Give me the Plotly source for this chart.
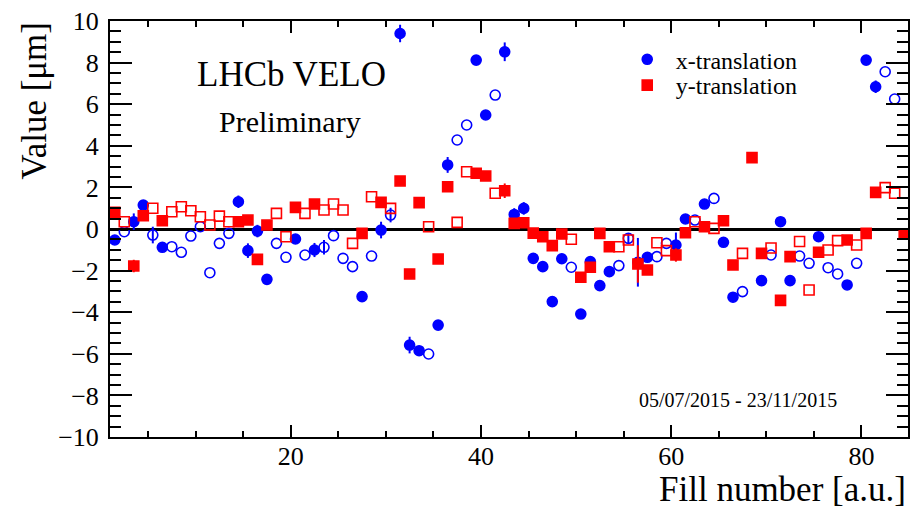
import plotly.graph_objects as go

# ---------------- data ----------------
fill = [1.5, 2.5, 3.5, 4.5, 5.5, 6.5, 7.5, 8.5, 9.5, 10.5,
        11.5, 12.5, 13.5, 14.5, 15.5, 16.5, 17.5, 18.5, 19.5, 20.5,
        21.5, 22.5, 23.5, 24.5, 25.5, 26.5, 27.5, 28.5, 29.5, 30.5,
        31.5, 32.5, 33.5, 34.5, 35.5, 36.5, 37.5, 38.5, 39.5, 40.5,
        41.5, 42.5, 43.5, 44.5, 45.5, 46.5, 47.5, 48.5, 49.5, 50.5,
        51.5, 52.5, 53.5, 54.5, 55.5, 56.5, 57.5, 58.5, 59.5, 60.5,
        61.5, 62.5, 63.5, 64.5, 65.5, 66.5, 67.5, 68.5, 69.5, 70.5,
        71.5, 72.5, 73.5, 74.5, 75.5, 76.5, 77.5, 78.5, 79.5, 80.5,
        81.5, 82.5, 83.5, 84.5]

# F = filled marker, O = open marker
status = ("FOFFOFOOOO" "OOOFFFFOOF" "OFOOOOFOFO" "FFFOFFOOFF" "OFFFFFFFOF"
          "FFFOOFFOOF" "FOFOFFOFFO" "FFOOFOOFOF" "FOOF")

x_translation = [-0.53, -0.13, 0.35, 1.15, -0.29, -0.88, -0.85, -1.12, -0.34, 0.11,
                 -2.10, -0.69, -0.21, 1.31, -1.04, -0.10, -2.42, -0.69, -1.36, -0.48,
                 -1.25, -1.01, -0.88, -0.32, -1.41, -1.81, -3.25, -1.30, -0.05, 0.67,
                 9.40, -5.58, -5.85, -6.01, -4.62, 3.08, 4.28, 5.00, 8.12, 5.48,
                 6.44, 8.52, 0.70, 0.99, -1.41, -1.81, -3.49, -1.43, -1.84, -4.09,
                 -1.57, -2.72, -2.05, -1.76, -0.45, -1.60, -1.36, -1.33, -0.69, -0.77,
                 0.48, 0.43, 1.20, 1.47, -0.64, -3.28, -3.01, None, -2.48, -1.25,
                 0.35, -2.48, -1.30, -1.65, -0.37, -1.86, -2.16, -2.69, -1.65, 8.12,
                 6.84, 7.56, 6.25, None]

y_translation = [0.80, 0.35, -1.78, 0.64, 1.00, 0.40, 0.83, 1.07, 0.88, 0.59,
                 0.19, 0.62, 0.35, 0.35, 0.43, -1.46, 0.19, 0.75, -0.37, 1.04,
                 0.75, 1.20, 0.91, 1.20, 0.91, -0.69, -0.21, 1.55, 1.28, 0.99,
                 2.31, -2.16, 1.27, 0.11, -1.44, 2.03, 0.32, 2.75, 2.68, 2.55,
                 1.72, 1.84, 0.27, 0.30, -0.20, -0.37, -0.80, -0.24, -0.49, -2.32,
                 -1.84, -0.21, -0.85, -0.85, -0.53, -1.68, -1.97, -0.66, -1.04, -1.25,
                 -0.18, 0.35, 0.11, 0.03, 0.40, -1.73, -1.17, 3.43, -1.17, -0.91,
                 -3.43, -1.33, -0.60, -2.93, -1.12, -1.01, -0.56, -0.53, -0.77, -0.21,
                 1.76, 1.99, 1.72, -0.24]

# visible error bars (others are hidden beneath the markers)
x_err = {3.5: 0.4, 5.5: 0.4, 14.5: 0.3, 15.5: 0.35, 16.5: 0.3, 22.5: 0.34,
         23.5: 0.35, 29.5: 0.4, 30.5: 0.35, 31.5: 0.42, 32.5: 0.4, 36.5: 0.38,
         42.5: 0.45, 43.5: 0.3, 44.5: 0.3, 55.5: 0.25, 56.5: 1.17, 60.5: 0.6,
         81.5: 0.3}
y_err = {3.5: 0.3, 42.5: 0.35, 56.5: 0.9, 60.5: 0.32}

x_ticks = [20, 40, 60, 80]

BLUE = "#0000ff"
RED = "#ff0000"
FONT = "Liberation Serif"


def subset(values, errs, flag):
    xs, ys, es = [], [], []
    for f, s, v in zip(fill, status, values):
        if s == flag and v is not None:
            xs.append(f)
            ys.append(v)
            es.append(errs.get(f, 0.0))
    return xs, ys, es


fig = go.Figure()


def add(values, errs, flag, color, symbol, name, show, legend):
    xs, ys, es = subset(values, errs, flag)
    fig.add_trace(go.Scatter(
        x=xs, y=ys, mode="markers", name=name, showlegend=show, legend=legend,
        marker=dict(color=color, size=10, symbol=symbol,
                    line=dict(color=color, width=1.6)),
        error_y=dict(type="data", array=es, color=color, thickness=2, width=0),
    ))


add(x_translation, x_err, "F", BLUE, "circle", "x-translation", True, "legend")
add(x_translation, x_err, "O", BLUE, "circle-open", "x-translation", False, "legend")
add(y_translation, y_err, "F", RED, "square", "y-translation", True, "legend2")
add(y_translation, y_err, "O", RED, "square-open", "y-translation", False, "legend2")

axis_common = dict(
    showline=True, linecolor="black", linewidth=2, mirror="allticks",
    ticks="inside", tickcolor="black", tickwidth=2, showgrid=False,
    tickfont=dict(family=FONT, size=26, color="black"),
)

legend_common = dict(xanchor="left", yanchor="top", bgcolor="rgba(0,0,0,0)",
                     itemwidth=47, font=dict(family=FONT, size=24, color="black"))

fig.update_layout(
    width=913, height=508,
    margin=dict(l=110, r=3, t=21, b=71),
    paper_bgcolor="white", plot_bgcolor="white",
    font=dict(family=FONT, color="black"),
    xaxis=dict(range=[1, 84.9], tickmode="array", tickvals=x_ticks, ticklen=12,
               ticklabelstandoff=-5,
               minor=dict(dtick=5, tick0=0, ticklen=6, tickwidth=2, ticks="inside",
                          tickcolor="black", showgrid=False),
               zeroline=False, **axis_common),
    yaxis=dict(range=[-10, 10], dtick=2, tick0=0, ticklen=22,
               ticklabelstandoff=4,
               minor=dict(dtick=0.5, tick0=0, ticklen=11, tickwidth=2, ticks="inside",
                          tickcolor="black", showgrid=False),
               zeroline=True, zerolinecolor="black", zerolinewidth=2.5,
               **axis_common),
    legend=dict(x=0.6375, y=0.961, **legend_common),
    legend2=dict(x=0.6375, y=0.899, **legend_common),
    annotations=[
        dict(text="LHCb VELO", xref="paper", yref="paper", x=0.227, y=0.871,
             xanchor="center", yanchor="middle",
             showarrow=False, font=dict(family=FONT, size=35, color="black")),
        dict(text="Preliminary", xref="paper", yref="paper", x=0.225, y=0.758,
             xanchor="center", yanchor="middle",
             showarrow=False, font=dict(family=FONT, size=30, color="black")),
        dict(text="05/07/2015 - 23/11/2015", xref="paper", yref="paper",
             x=0.66, y=0.089, xanchor="left", yanchor="middle",
             showarrow=False, font=dict(family=FONT, size=20, color="black")),
        dict(text="Value [μm]", xref="paper", yref="paper", x=-0.094, y=1.003,
             xanchor="center", yanchor="top", textangle=-90,
             showarrow=False, font=dict(family=FONT, size=35, color="black")),
        dict(text="Fill number [a.u.]", xref="paper", yref="paper", x=1.0, y=-0.125,
             xanchor="right", yanchor="middle",
             showarrow=False, font=dict(family=FONT, size=35, color="black")),
    ],
)

fig.write_html("out.html", config={"displayModeBar": False},
               post_script="document.body.style.margin='0px';")
